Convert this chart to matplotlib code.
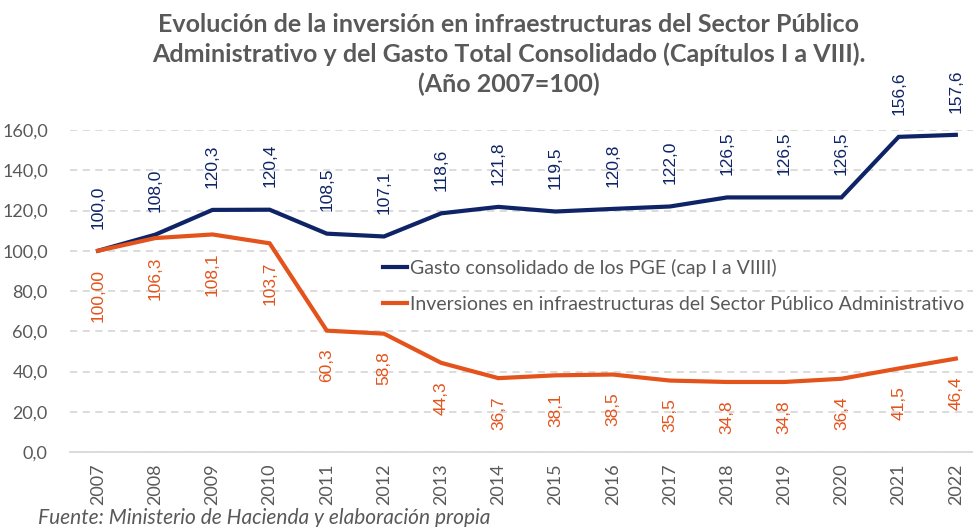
import matplotlib
matplotlib.use('Agg')
import matplotlib.pyplot as plt

# Datos
anios = ['2007', '2008', '2009', '2010', '2011', '2012', '2013', '2014',
         '2015', '2016', '2017', '2018', '2019', '2020', '2021', '2022']
gasto = [100.0, 108.0, 120.3, 120.4, 108.5, 107.1, 118.6, 121.8,
         119.5, 120.8, 122.0, 126.5, 126.5, 126.5, 156.6, 157.6]
inversion = [100.00, 106.3, 108.1, 103.7, 60.3, 58.8, 44.3, 36.7,
             38.1, 38.5, 35.5, 34.8, 34.8, 36.4, 41.5, 46.4]
etiquetas_gasto = ['100,0', '108,0', '120,3', '120,4', '108,5', '107,1', '118,6', '121,8',
                   '119,5', '120,8', '122,0', '126,5', '126,5', '126,5', '156,6', '157,6']
etiquetas_inversion = ['100,00', '106,3', '108,1', '103,7', '60,3', '58,8', '44,3', '36,7',
                       '38,1', '38,5', '35,5', '34,8', '34,8', '36,4', '41,5', '46,4']
yticks = [0, 20, 40, 60, 80, 100, 120, 140, 160]

azul = '#0E2466'
naranja = '#E4531B'
gris = '#595959'
fuente = 'Lato'

fig = plt.figure(figsize=(9.73, 5.27), dpi=100)
ax = fig.add_axes([0.072, 0.1423, 0.928, 0.611])

x = list(range(len(anios)))
l1, = ax.plot(x, gasto, color=azul, lw=3, solid_joinstyle='miter', zorder=3,
              label='Gasto consolidado de los PGE (cap I a VIIII)')
l2, = ax.plot(x, inversion, color=naranja, lw=3, solid_joinstyle='miter', zorder=3,
              label='Inversiones en infraestructuras del Sector Público Administrativo')

# Etiquetas de datos
for xi, v, t in zip(x, gasto, etiquetas_gasto):
    ax.annotate(t, (xi, v), xytext=(0, 16), textcoords='offset points',
                rotation=90, ha='center', va='bottom', color=azul,
                fontsize=12.5, family='Liberation Sans', annotation_clip=False)
for xi, v, t in zip(x, inversion, etiquetas_inversion):
    ax.annotate(t, (xi, v), xytext=(0, -13), textcoords='offset points',
                rotation=90, ha='center', va='top', color=naranja,
                fontsize=12.5, family='Liberation Sans', annotation_clip=False)

ax.set_xlim(-0.49, 15.3)
ax.set_ylim(0, 160)
ax.set_yticks(yticks)
ax.set_yticklabels([f'{v:.1f}'.replace('.', ',') for v in yticks],
                   color=gris, fontsize=13, family=fuente)
ax.set_xticks(x)
ax.set_xticklabels(anios, rotation=90, color=gris, fontsize=13, family=fuente)
ax.tick_params(length=0)
ax.tick_params(axis='y', pad=16)
ax.tick_params(axis='x', pad=8)

ax.yaxis.grid(True, color='#D9D9D9', ls=(0, (4, 3)), lw=1.3)
ax.set_axisbelow(True)
for s in ['top', 'right', 'left']:
    ax.spines[s].set_visible(False)
ax.spines['bottom'].set_color('#D9D9D9')
ax.spines['bottom'].set_linewidth(1.3)

ax.legend(handles=[l1, l2], loc='upper left', bbox_to_anchor=(0.386, 0.524),
          bbox_transform=fig.transFigure, frameon=False, handlelength=1.2,
          handletextpad=0.15, labelspacing=1.0, borderaxespad=0,
          prop={'family': fuente, 'size': 14}, labelcolor=gris)

fig.text(0.523, 0.897, 'Evolución de la inversión en infraestructuras del Sector Público\n'
         'Administrativo y del Gasto Total Consolidado (Capítulos I a VIII).\n'
         '(Año 2007=100)', ha='center', va='center', fontsize=18,
         fontweight='bold', color=gris, family=fuente, linespacing=1.33)
fig.text(0.039, 0.018, 'Fuente: Ministerio de Hacienda y elaboración propia',
         ha='left', va='center', fontsize=15, style='italic', color=gris, family=fuente)

fig.savefig('out.png', dpi=100)
